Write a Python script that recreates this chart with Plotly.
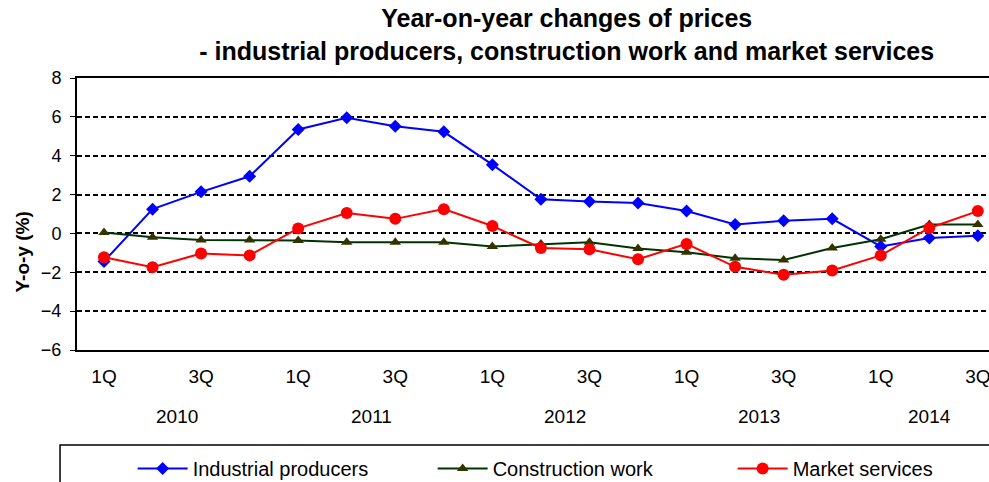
import plotly.graph_objects as go

quarters = ["1Q", "2Q", "3Q", "4Q"] * 4 + ["1Q", "2Q", "3Q"]
years = ["2010", "2011", "2012", "2013", "2014"]
industrial = [-1.44, 1.25, 2.14, 2.94, 5.35, 5.95, 5.52, 5.23, 3.54, 1.76, 1.64, 1.56, 1.15, 0.46, 0.65, 0.75, -0.67, -0.24, -0.12]
construction = [0.05, -0.2, -0.34, -0.34, -0.37, -0.46, -0.46, -0.46, -0.67, -0.55, -0.46, -0.78, -0.97, -1.28, -1.37, -0.75, -0.3, 0.46, 0.46]
market = [-1.23, -1.74, -1.03, -1.13, 0.26, 1.05, 0.75, 1.25, 0.38, -0.75, -0.82, -1.33, -0.54, -1.72, -2.13, -1.91, -1.13, 0.28, 1.15]

FONT = "Liberation Sans, Arial, sans-serif"
x = list(range(len(quarters)))

fig = go.Figure()
fig.add_trace(go.Scatter(x=x, y=industrial, name="Industrial producers", mode="lines+markers",
                         line=dict(color="#0000FF", width=2),
                         marker=dict(symbol="diamond", size=10, color="#0000FF")))
fig.add_trace(go.Scatter(x=x, y=construction, name="Construction work", mode="lines+markers",
                         line=dict(color="#003300", width=2),
                         marker=dict(symbol="triangle-up", size=10, color="#333300")))
fig.add_trace(go.Scatter(x=x, y=market, name="Market services", mode="lines+markers",
                         line=dict(color="#FF0000", width=2),
                         marker=dict(symbol="circle", size=12, color="#FF0000")))

# tick labels for 1Q / 3Q only
tickvals = [i for i, q in enumerate(quarters) if q in ("1Q", "3Q")]
ticktext = [quarters[i] for i in tickvals]

# year labels centred over their quarters
annotations = []
for k, yr in enumerate(years):
    idx = [i for i in range(len(quarters)) if i // 4 == k]
    annotations.append(dict(x=sum(idx) / len(idx), y=-0.243, xref="x", yref="paper",
                            text=yr, showarrow=False, xanchor="center", yanchor="middle",
                            font=dict(family=FONT, size=19, color="black")))
annotations.append(dict(x=-0.0598, y=0.36, xref="paper", yref="paper", text="<b>Y-o-y (%)</b>",
                        textangle=-90, showarrow=False, xanchor="center", yanchor="middle",
                        font=dict(family=FONT, size=19, color="black")))

fig.update_layout(
    width=989, height=482,
    margin=dict(l=77, r=0, t=78, b=132, autoexpand=False),
    plot_bgcolor="white", paper_bgcolor="white",
    title=dict(text="<b>Year-on-year changes of prices<br>- industrial producers, construction work and market services</b>",
               x=0.573, xanchor="center", xref="container", y=1 - 27 / 482, yanchor="middle", yref="container",
               font=dict(family=FONT, size=25, color="black")),
    font=dict(family=FONT, size=19, color="black"),
    showlegend=True,
    legend=dict(orientation="h", x=0.061, xanchor="left", y=-0.364, yanchor="top",
                bgcolor="rgba(0,0,0,0)", borderwidth=0,
                font=dict(family=FONT, size=20, color="black"),
                entrywidth=235, entrywidthmode="pixels", itemwidth=50),
    annotations=annotations,
    shapes=[dict(type="rect", xref="paper", yref="paper", x0=-0.0186, x1=1.05, y0=-0.349, y1=-0.6,
                 line=dict(color="black", width=1.5), fillcolor="rgba(0,0,0,0)")],
)
fig.update_xaxes(range=[-0.556, 18.23], tickvals=tickvals, ticktext=ticktext, showgrid=False,
                 showline=True, linecolor="black", linewidth=2, mirror=True, ticks="",
                 ticklabelstandoff=8, ticklabeloverflow="allow", zeroline=False,
                 tickfont=dict(family=FONT, size=19, color="black"))
fig.update_yaxes(range=[-6, 8], dtick=2, showgrid=True, gridcolor="black", gridwidth=1.5,
                 griddash="5px,3px", showline=True, linecolor="black", linewidth=2, mirror=True,
                 ticks="outside", ticklen=5, tickcolor="black", zeroline=False,
                 ticklabelstandoff=5,
                 tickfont=dict(family=FONT, size=18, color="black"))

fig.write_html("out.html", config={"displayModeBar": False},
               post_script="document.body.style.margin='0';document.body.style.overflow='hidden';")
